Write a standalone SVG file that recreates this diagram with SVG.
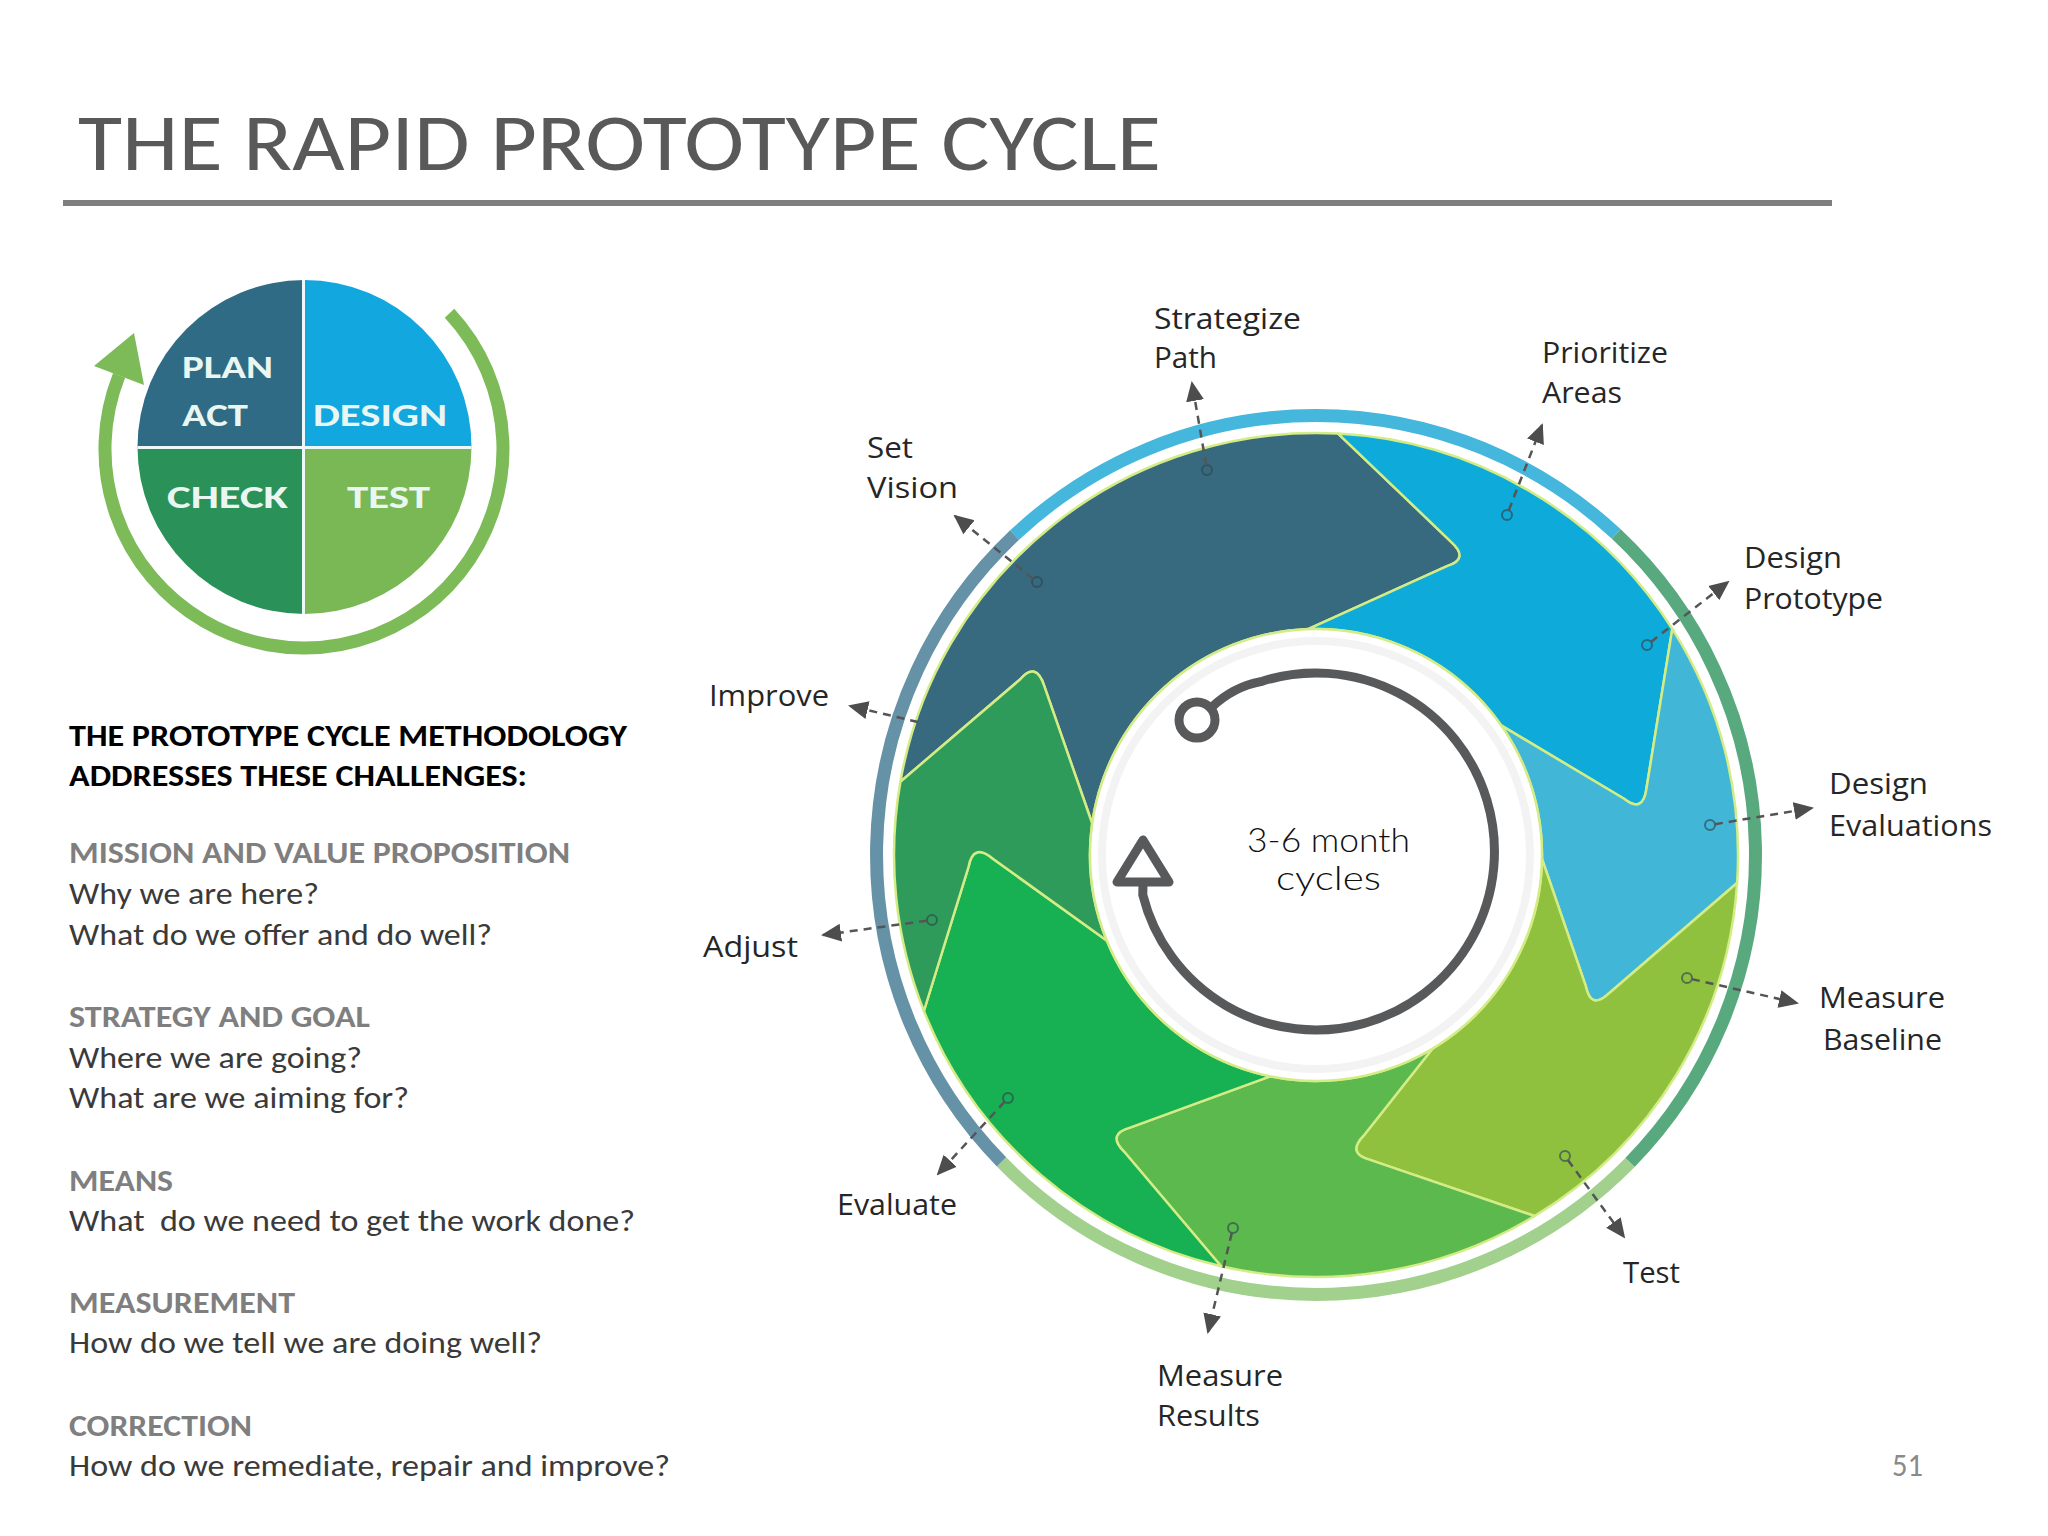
<svg xmlns="http://www.w3.org/2000/svg" width="2048" height="1536" viewBox="0 0 2048 1536">
<defs>
<style>
.ttl{font-family:Carlito,Lato,"Open Sans",sans-serif;font-size:80px;fill:#595959}
.hd{font-family:Carlito,Lato,"Open Sans",sans-serif;font-size:30px;font-weight:bold;fill:#000}
.gh{font-family:Carlito,Lato,"Open Sans",sans-serif;font-size:30px;font-weight:bold;fill:#7f7f7f}
.bd{font-family:Carlito,Lato,"Open Sans",sans-serif;font-size:30px;fill:#3a3a3a}
.q{font-family:Carlito,Lato,"Open Sans",sans-serif;font-size:33px;font-weight:bold;fill:#eaf6f2}
.lb{font-family:"Open Sans","Liberation Sans",sans-serif;font-size:30px;fill:#262626}
.ct{font-family:Lato,"Liberation Sans",sans-serif;font-size:34px;font-weight:300;fill:#111}
.seg{stroke:#d4ec86;stroke-width:2.5;stroke-linejoin:round}
.band{fill:none;stroke-width:13}
.con{fill:none;stroke:#555;stroke-width:2.5;stroke-dasharray:8 6;marker-end:url(#ah)}
.pin{fill:none;stroke:#2f4650;stroke-width:2;opacity:.65}
</style>
<marker id="ah" viewBox="0 0 10 10" refX="9" refY="5" markerWidth="20" markerHeight="20" markerUnits="userSpaceOnUse" orient="auto">
<path d="M0,0.5 L10,5 L0,9.5 z" fill="#4d4d4d"/>
</marker>
</defs>
<rect width="2048" height="1536" fill="#fff"/>

<g id="title">
<text class="ttl" x="78" y="170" textLength="1083" lengthAdjust="spacingAndGlyphs">THE RAPID PROTOTYPE CYCLE</text>
<rect x="63" y="200" width="1769" height="6" fill="#7f7f7f"/>
</g>

<g id="pdca">
<path d="M304.5,447 L137.5,447 A167,167 0 0 1 304.5,280 Z" fill="#2f6b84"/>
<path d="M304.5,447 L304.5,280 A167,167 0 0 1 471.5,447 Z" fill="#12a7de"/>
<path d="M304.5,447 L471.5,447 A167,167 0 0 1 304.5,614 Z" fill="#79b855"/>
<path d="M304.5,447 L304.5,614 A167,167 0 0 1 137.5,447 Z" fill="#2a9158"/>
<line x1="303.5" y1="280" x2="303.5" y2="614" stroke="#eef8f8" stroke-width="3"/>
<line x1="137.5" y1="447.5" x2="471.5" y2="447.5" stroke="#eef8f8" stroke-width="3"/>
<text class="q" x="182" y="378" textLength="91" lengthAdjust="spacingAndGlyphs">PLAN</text>
<text class="q" x="182" y="426" textLength="66" lengthAdjust="spacingAndGlyphs">ACT</text>
<text class="q" x="313" y="426" textLength="134" lengthAdjust="spacingAndGlyphs">DESIGN</text>
<text class="q" x="167" y="508" textLength="121" lengthAdjust="spacingAndGlyphs">CHECK</text>
<text class="q" x="347" y="508" textLength="83" lengthAdjust="spacingAndGlyphs">TEST</text>
<path d="M449.5,313.3 A199,199 0 1 1 119.1,375.4" fill="none" stroke="#7cbb58" stroke-width="13"/>
<polygon points="134,333 94,366 144,385" fill="#7cbb58"/>
</g>

<g id="challenges">
<text class="hd" x="69" y="746" textLength="558" lengthAdjust="spacingAndGlyphs">THE PROTOTYPE CYCLE METHODOLOGY</text>
<text class="hd" x="69" y="786" textLength="458" lengthAdjust="spacingAndGlyphs">ADDRESSES THESE CHALLENGES:</text>
<text class="gh" x="69" y="863" textLength="501" lengthAdjust="spacingAndGlyphs">MISSION AND VALUE PROPOSITION</text>
<text class="bd" x="69" y="904" textLength="250" lengthAdjust="spacingAndGlyphs">Why we are here?</text>
<text class="bd" x="69" y="945" textLength="423" lengthAdjust="spacingAndGlyphs">What do we offer and do well?</text>
<text class="gh" x="69" y="1027" textLength="301" lengthAdjust="spacingAndGlyphs">STRATEGY AND GOAL</text>
<text class="bd" x="69" y="1068" textLength="293" lengthAdjust="spacingAndGlyphs">Where we are going?</text>
<text class="bd" x="69" y="1108" textLength="340" lengthAdjust="spacingAndGlyphs">What are we aiming for?</text>
<text class="gh" x="69" y="1191" textLength="104" lengthAdjust="spacingAndGlyphs">MEANS</text>
<text class="bd" x="69" y="1231" textLength="566" lengthAdjust="spacingAndGlyphs" xml:space="preserve">What  do we need to get the work done?</text>
<text class="gh" x="69" y="1313" textLength="226" lengthAdjust="spacingAndGlyphs">MEASUREMENT</text>
<text class="bd" x="69" y="1353" textLength="473" lengthAdjust="spacingAndGlyphs">How do we tell we are doing well?</text>
<text class="gh" x="69" y="1436" textLength="183" lengthAdjust="spacingAndGlyphs">CORRECTION</text>
<text class="bd" x="69" y="1476" textLength="601" lengthAdjust="spacingAndGlyphs">How do we remediate, repair and improve?</text>
</g>

<g id="outer-band">
<path class="band" stroke="#45b6dc" d="M1014.6,535.1 A439.5,439.5 0 0 1 1616.3,534.1"/>
<path class="band" stroke="#59a97e" d="M1616.3,534.1 A439.5,439.5 0 0 1 1630,1162.5"/>
<path class="band" stroke="#a2d08d" d="M1630,1162.5 A439.5,439.5 0 0 1 1001.5,1161.9"/>
<path class="band" stroke="#6592a6" d="M1001.5,1161.9 A439.5,439.5 0 0 1 1014.6,535.1"/>
</g>

<g id="seg-set-vision">
<path class="seg" fill="#37697f" d="M900.4,781.7 A422,422 0 0 1 1338.1,433.6 L1451.1,541.8 Q1470,559 1447,566.1 L1308.1,629.1 A226,226 0 0 0 1092.2,823.5 L1044.2,685.8 Q1036,661 1020.3,679.3 Z"/>
</g>
<g id="seg-prioritize">
<path class="seg" fill="#0eaad9" d="M1338.1,433.6 A422,422 0 0 1 1672.3,628.9 L1646.5,788.3 Q1643,814 1624.1,798.7 L1501.1,725.4 A226,226 0 0 0 1308.1,629.1 L1447,566.1 Q1470,559 1451.1,541.8 Z"/>
</g>
<g id="seg-design">
<path class="seg" fill="#42b6d6" d="M1672.3,628.9 A422,422 0 0 1 1737.1,883 L1609.7,992.7 Q1591,1011 1585.8,986.2 L1542,858.9 A226,226 0 0 0 1501.1,725.4 L1624.1,798.7 Q1643,814 1646.5,788.3 Z"/>
</g>
<g id="seg-measure-test">
<path class="seg" fill="#8fc13f" d="M1737.1,883 A422,422 0 0 1 1534.6,1216 L1370.8,1160.1 Q1346,1154 1363.6,1135.7 L1432.4,1048.7 A226,226 0 0 0 1542,858.9 L1585.8,986.2 Q1591,1011 1609.7,992.7 Z"/>
</g>
<g id="seg-results">
<path class="seg" fill="#5bb94d" d="M1534.6,1216 A422,422 0 0 1 1221.1,1266.2 L1124.2,1151.8 Q1106,1134 1130.7,1127.4 L1270.2,1076.3 A226,226 0 0 0 1432.4,1048.7 L1363.6,1135.7 Q1346,1154 1370.8,1160.1 Z"/>
</g>
<g id="seg-evaluate">
<path class="seg" fill="#17b052" d="M1221.1,1266.2 A422,422 0 0 1 923.9,1011 L968.5,867 Q973,842 992.9,858.8 L1106.7,940.4 A226,226 0 0 0 1270.2,1076.3 L1130.7,1127.4 Q1106,1134 1124.2,1151.8 Z"/>
</g>
<g id="seg-adjust">
<path class="seg" fill="#2f9b5b" d="M923.9,1011 A422,422 0 0 1 900.4,781.7 L1020.3,679.3 Q1036,661 1044.2,685.8 L1092.2,823.5 A226,226 0 0 0 1106.7,940.4 L992.9,858.8 Q973,842 968.5,867 Z"/>
</g>

<g id="hub">
<circle cx="1316" cy="855" r="226" fill="#fff" stroke="#d4ec86" stroke-width="2.5"/>
<circle cx="1316" cy="855" r="214" fill="none" stroke="#f3f3f3" stroke-width="8"/>
<circle cx="1197" cy="720" r="18" fill="#fff" stroke="#58595b" stroke-width="9"/>
<path d="M1212,707 C1228,692 1243,685 1260.8,681.7 A178.5,178.5 0 1 1 1142.8,894.8 L1143,884" fill="none" stroke="#58595b" stroke-width="9"/>
<polygon points="1143,840 1117,882 1169,882" fill="#fff" stroke="#58595b" stroke-width="9" stroke-linejoin="round"/>
<text class="ct" x="1328.5" y="852" text-anchor="middle" textLength="163" lengthAdjust="spacingAndGlyphs">3-6 month</text>
<text class="ct" x="1328.5" y="890" text-anchor="middle" textLength="105" lengthAdjust="spacingAndGlyphs">cycles</text>
</g>

<g id="connectors">
<circle class="pin" cx="1207" cy="470" r="5"/>
<line class="con" x1="1206.2" y1="465.1" x2="1192" y2="383"/>
<circle class="pin" cx="1507" cy="515" r="5"/>
<line class="con" x1="1508.8" y1="510.3" x2="1542" y2="425"/>
<circle class="pin" cx="1037" cy="582" r="5"/>
<line class="con" x1="1033.1" y1="578.9" x2="955" y2="516"/>
<circle class="pin" cx="1647" cy="645" r="5"/>
<line class="con" x1="1650.9" y1="641.9" x2="1728" y2="582"/>
<line class="con" x1="918" y1="722" x2="850" y2="706"/>
<circle class="pin" cx="1710" cy="825" r="5"/>
<line class="con" x1="1714.9" y1="824.2" x2="1812" y2="808"/>
<circle class="pin" cx="932" cy="920" r="5"/>
<line class="con" x1="927" y1="920.7" x2="823" y2="935"/>
<circle class="pin" cx="1687" cy="978" r="5"/>
<line class="con" x1="1691.9" y1="979.1" x2="1797" y2="1003"/>
<circle class="pin" cx="1008" cy="1098" r="5"/>
<line class="con" x1="1004.6" y1="1101.7" x2="938" y2="1174"/>
<circle class="pin" cx="1565" cy="1156" r="5"/>
<line class="con" x1="1567.9" y1="1160" x2="1624" y2="1237"/>
<circle class="pin" cx="1233" cy="1228" r="5"/>
<line class="con" x1="1231.8" y1="1232.9" x2="1208" y2="1332"/>
</g>

<g id="labels">
<text class="lb" x="1154" y="329" textLength="147" lengthAdjust="spacingAndGlyphs">Strategize</text>
<text class="lb" x="1154" y="368" textLength="63" lengthAdjust="spacingAndGlyphs">Path</text>
<text class="lb" x="1542" y="363" textLength="126" lengthAdjust="spacingAndGlyphs">Prioritize</text>
<text class="lb" x="1542" y="403" textLength="80" lengthAdjust="spacingAndGlyphs">Areas</text>
<text class="lb" x="867" y="458" textLength="46" lengthAdjust="spacingAndGlyphs">Set</text>
<text class="lb" x="867" y="498" textLength="91" lengthAdjust="spacingAndGlyphs">Vision</text>
<text class="lb" x="1744" y="568" textLength="98" lengthAdjust="spacingAndGlyphs">Design</text>
<text class="lb" x="1744" y="609" textLength="139" lengthAdjust="spacingAndGlyphs">Prototype</text>
<text class="lb" x="709" y="706" textLength="120" lengthAdjust="spacingAndGlyphs">Improve</text>
<text class="lb" x="1829" y="794" textLength="99" lengthAdjust="spacingAndGlyphs">Design</text>
<text class="lb" x="1829" y="836" textLength="163" lengthAdjust="spacingAndGlyphs">Evaluations</text>
<text class="lb" x="703" y="957" textLength="95" lengthAdjust="spacingAndGlyphs">Adjust</text>
<text class="lb" x="1819" y="1008" textLength="126" lengthAdjust="spacingAndGlyphs">Measure</text>
<text class="lb" x="1823" y="1050" textLength="119" lengthAdjust="spacingAndGlyphs">Baseline</text>
<text class="lb" x="837" y="1215" textLength="120" lengthAdjust="spacingAndGlyphs">Evaluate</text>
<text class="lb" x="1623" y="1283" textLength="57" lengthAdjust="spacingAndGlyphs">Test</text>
<text class="lb" x="1157" y="1386" textLength="126" lengthAdjust="spacingAndGlyphs">Measure</text>
<text class="lb" x="1157" y="1426" textLength="103" lengthAdjust="spacingAndGlyphs">Results</text>
</g>

<text id="page-number" x="1892" y="1476" font-family="Carlito,Lato,'Open Sans',sans-serif" font-size="32" fill="#8a8a8a" textLength="31" lengthAdjust="spacingAndGlyphs">51</text>
</svg>
